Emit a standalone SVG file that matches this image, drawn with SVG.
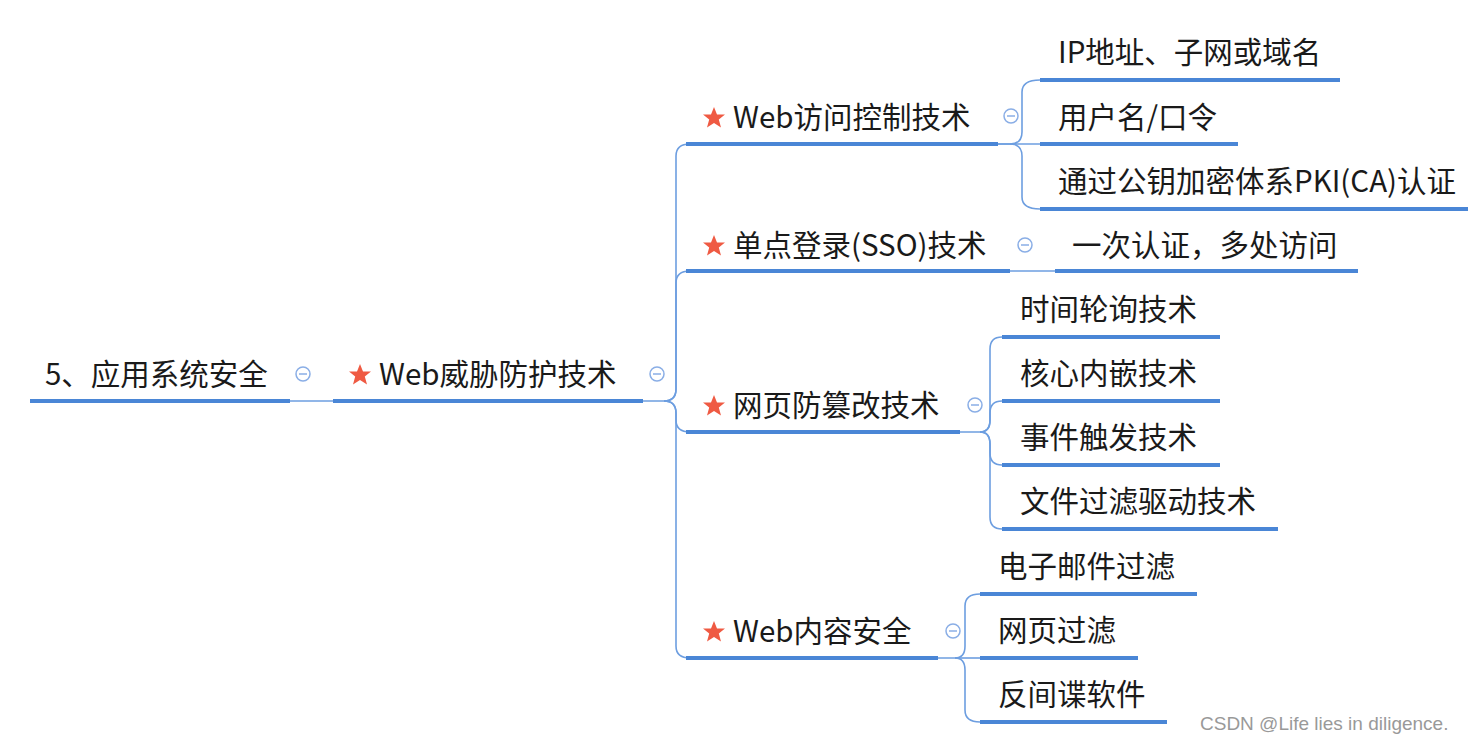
<svg xmlns="http://www.w3.org/2000/svg" width="1469" height="744" viewBox="0 0 1469 744">
<style>
text{font-family:"Noto Sans CJK SC","Noto Sans",sans-serif;font-size:29.5px;fill:#1a1a1a}
.u{stroke:#4a86d6;stroke-width:4}
.c{fill:none;stroke:#6d9ee0;stroke-width:1.6}
.cc{fill:#fff;stroke:#8aaee6;stroke-width:1.5}
.m{stroke:#8aaee6;stroke-width:1.5}
.star{fill:#ef5a43}
</style>
<defs>
<polygon id="st" class="star" points="0,-11 3,-3.5 11,-3.4 4.8,1.6 7,9.5 0,5 -7,9.5 -4.8,1.6 -11,-3.4 -3,-3.5"/>
<g id="col"><circle class="cc" r="7"/><line class="m" x1="-4" y1="0" x2="4" y2="0"/></g>
</defs>
<rect width="1469" height="744" fill="#fff"/>
<g id="connectors">
<line class="c" x1="290" y1="401" x2="333" y2="401"/>
<path class="c" d="M643,401 H664 Q676,401 676,389 V156 Q676,144 690,144"/>
<path class="c" d="M664,401 Q676,401 676,389 V283 Q676,271 690,271"/>
<path class="c" d="M664,401 Q676,401 676,413 V420 Q676,432 690,432"/>
<path class="c" d="M664,401 Q676,401 676,413 V646 Q676,658 690,658"/>
<path class="c" d="M998,144 H1010 Q1022,144 1022,132 V92 Q1022,80 1040,80"/>
<line class="c" x1="998" y1="144" x2="1040" y2="144"/>
<path class="c" d="M1010,144 Q1022,144 1022,156 V197 Q1022,209 1040,209"/>
<line class="c" x1="1010" y1="271" x2="1055" y2="271"/>
<path class="c" d="M960,432 H980 Q990,432 990,420 V349 Q990,337 1002,337"/>
<path class="c" d="M980,432 Q990,432 990,420 V413 Q990,401 1002,401"/>
<path class="c" d="M980,432 Q990,432 990,444 V453 Q990,465 1002,465"/>
<path class="c" d="M980,432 Q990,432 990,444 V517 Q990,529 1002,529"/>
<path class="c" d="M938,658 H955 Q965,658 965,646 V606 Q965,594 980,594"/>
<line class="c" x1="955" y1="658" x2="980" y2="658"/>
<path class="c" d="M955,658 Q965,658 965,670 V710 Q965,722 980,722"/>
</g>
<g id="root"><text x="45" y="385">5、应用系统安全</text><line class="u" x1="30" y1="401" x2="290" y2="401"/><use href="#col" x="303" y="374"/></g>
<g id="web"><use href="#st" x="360" y="375"/><text x="379" y="385">Web威胁防护技术</text><line class="u" x1="333" y1="401" x2="643" y2="401"/><use href="#col" x="657" y="374"/></g>
<g id="access"><use href="#st" x="714" y="118"/><text x="733" y="128">Web访问控制技术</text><line class="u" x1="686" y1="144" x2="998" y2="144"/><use href="#col" x="1011" y="116"/></g>
<g id="sso"><use href="#st" x="714" y="246"/><text x="733" y="256">单点登录(SSO)技术</text><line class="u" x1="686" y1="271" x2="1010" y2="271"/><use href="#col" x="1025" y="245"/></g>
<g id="tamper"><use href="#st" x="714" y="406"/><text x="733" y="416">网页防篡改技术</text><line class="u" x1="686" y1="432" x2="960" y2="432"/><use href="#col" x="975" y="405"/></g>
<g id="content"><use href="#st" x="714" y="632"/><text x="733" y="642">Web内容安全</text><line class="u" x1="686" y1="658" x2="938" y2="658"/><use href="#col" x="953" y="631"/></g>
<g id="a1"><text x="1058" y="63">IP地址、子网或域名</text><line class="u" x1="1040" y1="80" x2="1340" y2="80"/></g>
<g id="a2"><text x="1058" y="128">用户名/口令</text><line class="u" x1="1040" y1="144" x2="1238" y2="144"/></g>
<g id="a3"><text x="1058" y="192">通过公钥加密体系PKI(CA)认证</text><line class="u" x1="1040" y1="209" x2="1468" y2="209"/></g>
<g id="s1"><text x="1072" y="256">一次认证，多处访问</text><line class="u" x1="1055" y1="271" x2="1358" y2="271"/></g>
<g id="t1"><text x="1020" y="320">时间轮询技术</text><line class="u" x1="1002" y1="337" x2="1220" y2="337"/></g>
<g id="t2"><text x="1020" y="384">核心内嵌技术</text><line class="u" x1="1002" y1="401" x2="1220" y2="401"/></g>
<g id="t3"><text x="1020" y="448">事件触发技术</text><line class="u" x1="1002" y1="465" x2="1220" y2="465"/></g>
<g id="t4"><text x="1020" y="512">文件过滤驱动技术</text><line class="u" x1="1002" y1="529" x2="1278" y2="529"/></g>
<g id="c1"><text x="998" y="577">电子邮件过滤</text><line class="u" x1="980" y1="594" x2="1197" y2="594"/></g>
<g id="c2"><text x="998" y="641">网页过滤</text><line class="u" x1="980" y1="658" x2="1138" y2="658"/></g>
<g id="c3"><text x="998" y="705">反间谍软件</text><line class="u" x1="980" y1="722" x2="1167" y2="722"/></g>
<text x="1200" y="730" style="font-family:'Liberation Sans',sans-serif;font-size:19px;fill:#999">CSDN @Life lies in diligence.</text>
</svg>
